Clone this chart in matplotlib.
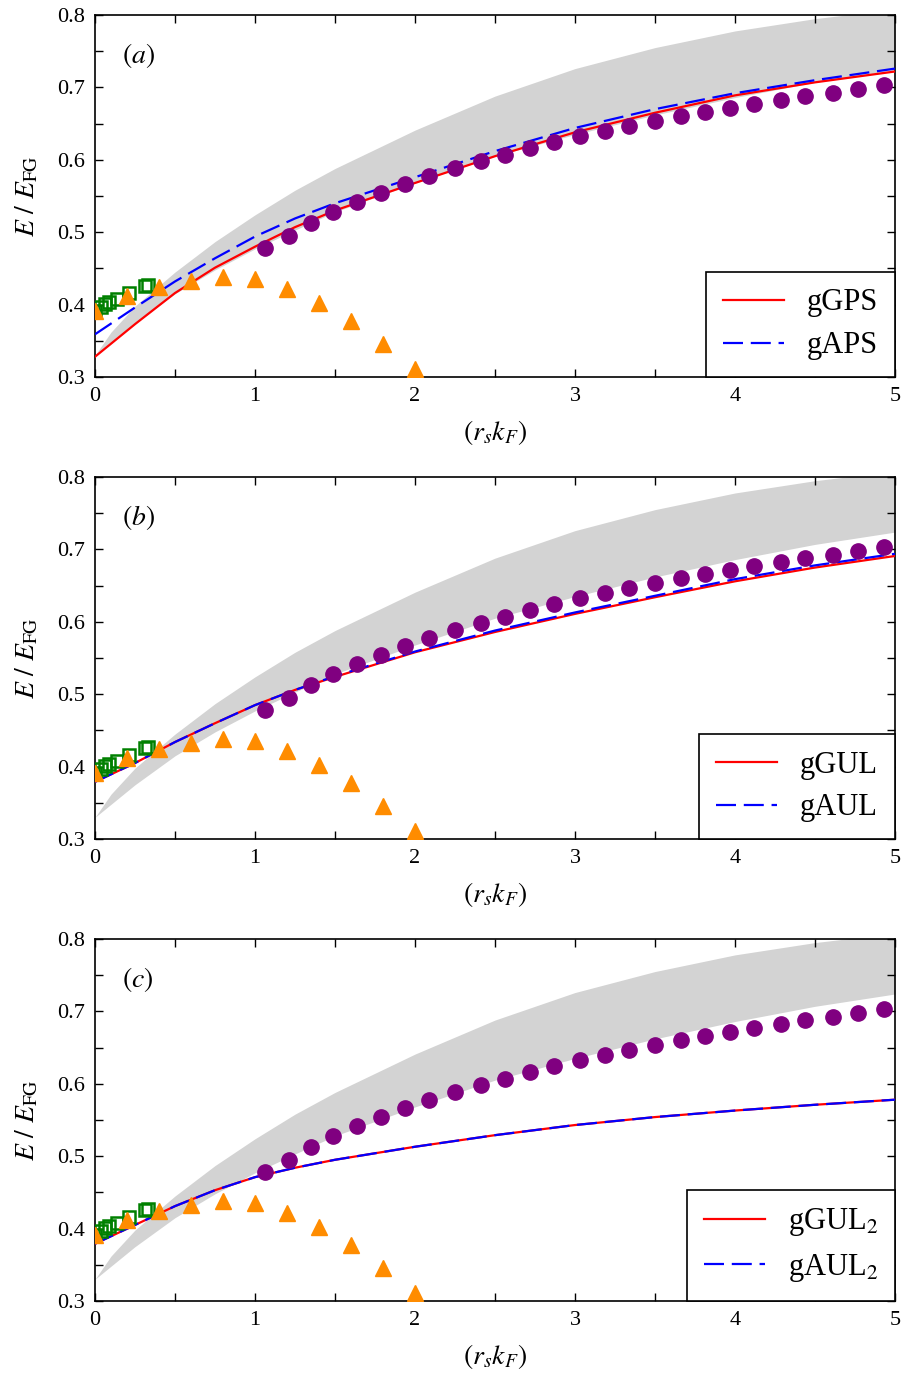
import numpy as np
import matplotlib
matplotlib.use("Agg")
import matplotlib.pyplot as plt

plt.rcParams['font.family'] = ['Liberation Serif', 'DejaVu Serif']
plt.rcParams['mathtext.fontset'] = 'stix'

# grey band (upper / lower edge)
band_x = [0, 0.1, 0.25, 0.5, 0.75, 1.0, 1.25, 1.5, 2.0, 2.5, 3.0, 3.5, 4.0, 4.5, 5.0]
band_hi = [0.330, 0.362, 0.398, 0.445, 0.487, 0.524, 0.558, 0.588, 0.641, 0.688, 0.726, 0.755, 0.778, 0.795, 0.808]
band_lo = [0.330, 0.348, 0.375, 0.415, 0.448, 0.477, 0.503, 0.528, 0.568, 0.605, 0.635, 0.662, 0.686, 0.707, 0.724]

# purple circles
circ_x = [1.06, 1.21, 1.35, 1.49, 1.64, 1.79, 1.94, 2.09, 2.25, 2.41, 2.56, 2.72, 2.87,
          3.03, 3.19, 3.34, 3.50, 3.66, 3.81, 3.97, 4.12, 4.29, 4.44, 4.61, 4.77, 4.93]
circ_y = [0.478, 0.495, 0.513, 0.528, 0.542, 0.554, 0.567, 0.578, 0.589, 0.598, 0.607, 0.616, 0.625,
          0.633, 0.640, 0.647, 0.654, 0.660, 0.666, 0.672, 0.677, 0.683, 0.688, 0.692, 0.698, 0.703]

# orange triangles
tri_x = [0.0, 0.2, 0.4, 0.6, 0.8, 1.0, 1.2, 1.4, 1.6, 1.8, 2.0]
tri_y = [0.391, 0.412, 0.424, 0.433, 0.438, 0.435, 0.421, 0.402, 0.377, 0.346, 0.311]

# green open squares
sq_x = [0.0, 0.04, 0.06, 0.09, 0.14, 0.21, 0.31, 0.33]
sq_y = [0.391, 0.397, 0.401, 0.404, 0.408, 0.416, 0.426, 0.427]

# model curves
cx = [0, 0.25, 0.5, 0.75, 1.0, 1.25, 1.5, 2.0, 2.5, 3.0, 3.5, 4.0, 4.5, 5.0]
gGPS = [0.328, 0.373, 0.416, 0.451, 0.480, 0.507, 0.530, 0.568, 0.605, 0.638, 0.665, 0.689, 0.707, 0.722]
gAPS = [0.359, 0.396, 0.432, 0.464, 0.494, 0.519, 0.540, 0.576, 0.612, 0.644, 0.670, 0.692, 0.710, 0.726]
gGUL = [0.379, 0.405, 0.434, 0.460, 0.485, 0.506, 0.524, 0.558, 0.586, 0.611, 0.634, 0.656, 0.675, 0.691]
gAUL = [0.379, 0.405, 0.434, 0.460, 0.485, 0.506, 0.525, 0.559, 0.588, 0.613, 0.636, 0.659, 0.678, 0.694]
gGUL2 = [0.379, 0.405, 0.431, 0.453, 0.471, 0.484, 0.495, 0.513, 0.529, 0.543, 0.554, 0.563, 0.571, 0.578]
gAUL2 = [0.379, 0.405, 0.431, 0.453, 0.471, 0.484, 0.495, 0.513, 0.529, 0.543, 0.554, 0.563, 0.571, 0.578]

panels = [(r'$(a)$', gGPS, gAPS, 'gGPS', 'gAPS'),
          (r'$(b)$', gGUL, gAUL, 'gGUL', 'gAUL'),
          (r'$(c)$', gGUL2, gAUL2, r'gGUL$_2$', r'gAUL$_2$')]

fig = plt.figure(figsize=(9.03, 13.78), dpi=100)
bottoms = [0.7264, 0.3911, 0.0559]
for (lab, red, blue, rlab, blab), b in zip(panels, bottoms):
    ax = fig.add_axes([0.1052, b, 0.8859, 0.2627])
    ax.fill_between(band_x, band_lo, band_hi, color='#d3d3d3', lw=0, zorder=1)
    ax.plot(cx, red, color='red', lw=1.6, label=rlab, zorder=3)
    ax.plot(cx, blue, color='blue', lw=1.6, dashes=(9, 3.5), label=blab, zorder=4)
    ax.plot(sq_x, sq_y, 's', mfc='none', mec='#008000', mew=1.8, ms=9, zorder=5)
    ax.plot(tri_x, tri_y, '^', color='#ff8c00', ms=12, zorder=6)
    ax.plot(circ_x, circ_y, 'o', color='#800080', ms=11, zorder=7)
    ax.set_xlim(0, 5)
    ax.set_ylim(0.3, 0.8)
    ax.set_xticks([0, 1, 2, 3, 4, 5])
    ax.set_yticks([0.3, 0.4, 0.5, 0.6, 0.7, 0.8])
    ax.set_xticks(np.arange(0.5, 5, 1.0), minor=True)
    ax.set_yticks(np.arange(0.35, 0.8, 0.1), minor=True)
    ax.tick_params(which='both', direction='in', top=True, right=True, labelsize=16)
    ax.tick_params(which='major', length=6, width=1, pad=7)
    ax.tick_params(which='minor', length=6, width=1)
    for s in ax.spines.values():
        s.set_linewidth(1.2)
    ax.set_xlabel(r'$(r_s k_F)$', fontsize=20, labelpad=9)
    ax.set_ylabel(r'$E\ /\ E_{\rm FG}$', fontsize=20, labelpad=12)
    ax.text(0.034, 0.868, lab, transform=ax.transAxes, fontsize=20)
    leg = ax.legend(loc='lower right', fontsize=22, frameon=True, fancybox=False,
                    edgecolor='black', framealpha=1, borderaxespad=0,
                    handlelength=2.0, handletextpad=0.75, borderpad=0.55, labelspacing=0.45)
    leg.get_frame().set_linewidth(1.2)
    leg.set_zorder(10)

fig.savefig('out.png', dpi=100)
